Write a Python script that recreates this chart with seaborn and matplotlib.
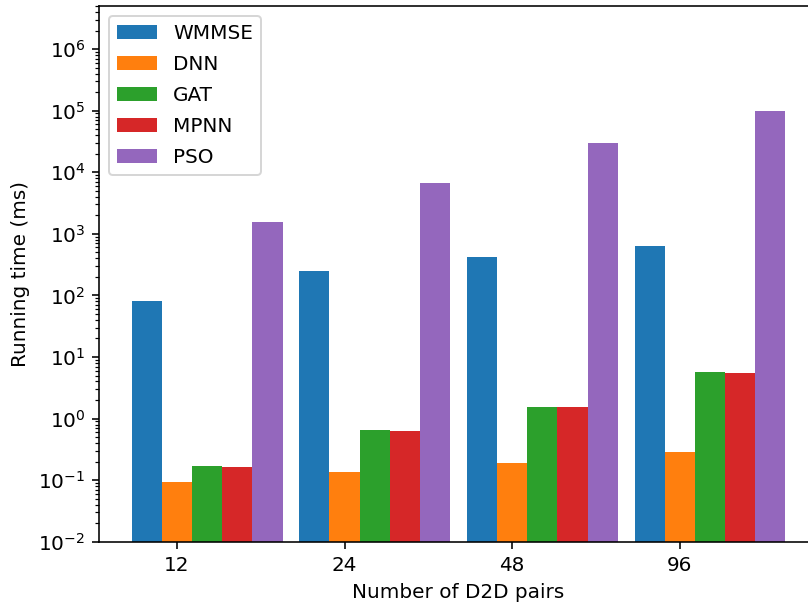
import numpy as np
import pandas as pd
import matplotlib
matplotlib.use("Agg")
import matplotlib.pyplot as plt
import seaborn as sns

# Data
pairs = ["12", "24", "48", "96"]
methods = ["WMMSE", "DNN", "GAT", "MPNN", "PSO"]
wmmse = [80, 248, 424, 638]
dnn = [0.094, 0.135, 0.19, 0.29]
gat = [0.169, 0.65, 1.54, 5.6]
mpnn = [0.165, 0.63, 1.52, 5.58]
pso = [1530, 6580, 29400, 98000]

series = [wmmse, dnn, gat, mpnn, pso]
colors = ["#1f77b4", "#ff7f0e", "#2ca02c", "#d62728", "#9467bd"]
bar_w = 0.18

rows = []
for j, (m, vals) in enumerate(zip(methods, series)):
    for i, v in enumerate(vals):
        rows.append({"pos": i + (j - 1) * bar_w, "time": v, "method": m})
df = pd.DataFrame(rows)

fig = plt.figure(figsize=(808 / 144, 604 / 144), dpi=144)
ax = fig.add_axes([0.1229, 0.1031, 0.8888, 0.8869])
ax.set_yscale("log")

sns.barplot(data=df, x="pos", y="time", hue="method", hue_order=methods,
            palette=colors, native_scale=True, dodge=False, width=1.0,
            saturation=1, errorbar=None, ax=ax)

ax.set_ylim(1e-2, 5e6)
ax.set_xlim(-0.463, 3.821)
ax.set_xticks(range(len(pairs)))
ax.set_xticklabels(pairs)
ax.xaxis.get_offset_text().set_visible(False)
ax.yaxis.get_offset_text().set_visible(False)
ax.set_xlabel("Number of D2D pairs")
ax.set_ylabel("Running time (ms)")
ax.legend(loc="upper left", title=None, labelspacing=0.6)

fig.savefig("out.png", dpi=144)
